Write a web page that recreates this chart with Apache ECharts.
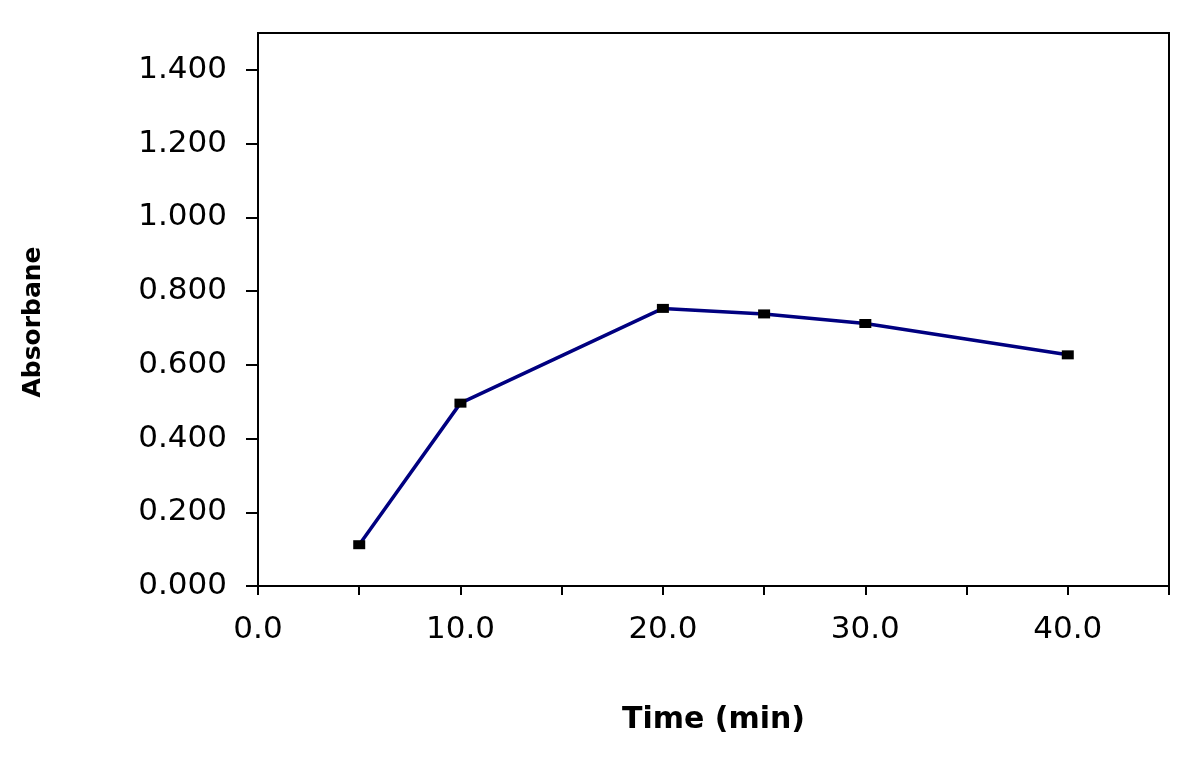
<!DOCTYPE html>
<html>
<head>
<meta charset="utf-8">
<script src="https://cdn.jsdelivr.net/npm/echarts@6/dist/echarts.min.js"></script>
<style>html,body{margin:0;padding:0;background:#fff;}#c{width:1200px;height:758px;}</style>
</head>
<body>
<div id="c"></div>
<script>
var timeMin = [5, 10, 20, 25, 30, 40];
var absorbance = [0.112, 0.496, 0.753, 0.738, 0.712, 0.627];
var yTicks = [0, 0.2, 0.4, 0.6, 0.8, 1.0, 1.2, 1.4];
var xTicks = [0, 5, 10, 15, 20, 25, 30, 35, 40, 45];
var xLabels = [0, 10, 20, 30, 40];
var xTitle = 'Time (min)';
var yTitle = 'Absorbane';

var chart = echarts.init(document.getElementById('c'), null, {renderer: 'canvas'});
var font = 'DejaVu Sans';
chart.setOption({
  backgroundColor: '#fff',
  animation: false,
  grid: {left: 258, right: 31, top: 33, bottom: 172, containLabel: false,
         show: true, borderColor: '#000', borderWidth: 2, backgroundColor: 'transparent'},
  xAxis: {
    type: 'value', min: 0, max: 45, interval: 5,
    name: xTitle, nameLocation: 'middle', nameGap: 119,
    nameTextStyle: {fontFamily: font, fontWeight: 'bold', fontSize: 30, color: '#000'},
    axisLine: {show: true, lineStyle: {color: '#000', width: 2}},
    axisTick: {show: true, length: 9, customValues: xTicks, lineStyle: {color: '#000', width: 2}},
    axisLabel: {customValues: xLabels, margin: 28, fontFamily: font, fontSize: 31, color: '#000',
                formatter: function (v) { return v.toFixed(1); }},
    splitLine: {show: false}
  },
  yAxis: {
    type: 'value', min: 0, max: 1.5, interval: 0.2,
    name: yTitle, nameLocation: 'middle', nameGap: 212, nameRotate: 90,
    nameTextStyle: {fontFamily: font, fontWeight: 'bold', fontSize: 25, color: '#000', padding: [0, 25, 0, 0]},
    axisLine: {show: true, lineStyle: {color: '#000', width: 2}},
    axisTick: {show: true, length: 12, customValues: yTicks, lineStyle: {color: '#000', width: 2}},
    axisLabel: {customValues: yTicks, margin: 31, fontFamily: font, fontSize: 31, color: '#000',
                padding: [4, 0, 0, 0],
                formatter: function (v) { return v.toFixed(3); }},
    splitLine: {show: false}
  },
  series: [{
    type: 'line',
    data: timeMin.map(function (t, i) { return [t, absorbance[i]]; }),
    lineStyle: {color: '#000080', width: 3.5},
    symbol: 'rect', symbolSize: [12, 9],
    itemStyle: {color: '#000', borderWidth: 0},
    showAllSymbol: true
  }]
});
</script>
</body>
</html>
